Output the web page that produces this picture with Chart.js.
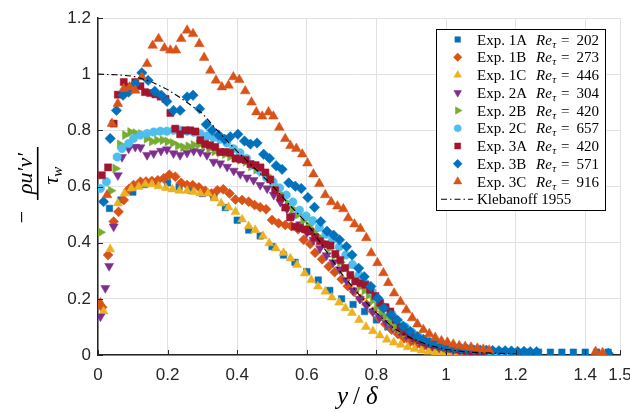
<!DOCTYPE html>
<html><head><meta charset="utf-8">
<script src="https://cdn.jsdelivr.net/npm/chart.js@4/dist/chart.umd.min.js"></script>
<style>html,body{margin:0;padding:0;background:#fff}canvas{display:block}</style>
</head><body>
<canvas id="c" width="630" height="413"></canvas>
<script>
// ---- tick labels ----
const xTicks = [0, 0.2, 0.4, 0.6, 0.8, 1, 1.2, 1.4, 1.5];
const yTicks = [0, 0.2, 0.4, 0.6, 0.8, 1, 1.2];

// ---- series names ----
const expNames = ['Exp. 1A','Exp. 1B','Exp. 1C','Exp. 2A','Exp. 2B','Exp. 2C','Exp. 3A','Exp. 3B','Exp. 3C'];
const reTau = [202, 273, 446, 304, 420, 657, 420, 571, 916];
const refName = 'Klebanoff 1955';

// ---- series values [y/delta, -rho u'v'/tau_w] ----
const exp1A = [[0.033,0.522],[0.066,0.552],[0.1,0.58],[0.133,0.607],[0.166,0.614],[0.2,0.613],[0.233,0.599],[0.266,0.587],[0.3,0.575],[0.333,0.563],[0.366,0.525],[0.4,0.48],[0.433,0.445],[0.466,0.424],[0.5,0.386],[0.533,0.356],[0.566,0.33],[0.6,0.297],[0.633,0.267],[0.666,0.23],[0.7,0.2],[0.733,0.18],[0.766,0.155],[0.8,0.125],[0.833,0.1],[0.866,0.075],[0.9,0.055],[0.933,0.04],[0.966,0.03],[1.0,0.02],[1.033,0.015],[1.066,0.013],[1.1,0.012],[1.133,0.012],[1.166,0.011],[1.2,0.011],[1.233,0.01],[1.266,0.01],[1.3,0.01],[1.333,0.01],[1.366,0.01],[1.4,0.01],[1.433,0.01],[1.466,0.01]];
const exp1B = [[0.012,0.17],[0.029,0.356],[0.045,0.475],[0.059,0.51],[0.074,0.552],[0.088,0.59],[0.102,0.605],[0.122,0.617],[0.138,0.618],[0.155,0.62],[0.172,0.622],[0.189,0.629],[0.205,0.642],[0.222,0.635],[0.239,0.613],[0.256,0.605],[0.272,0.605],[0.29,0.597],[0.308,0.585],[0.326,0.575],[0.343,0.587],[0.36,0.59],[0.378,0.575],[0.395,0.554],[0.414,0.552],[0.433,0.546],[0.45,0.534],[0.466,0.526],[0.483,0.519],[0.5,0.481],[0.519,0.469],[0.538,0.463],[0.555,0.459],[0.575,0.448],[0.591,0.41],[0.61,0.395],[0.624,0.364],[0.644,0.341],[0.663,0.315],[0.68,0.295],[0.7,0.27],[0.718,0.245],[0.736,0.225],[0.754,0.2],[0.772,0.18],[0.79,0.155],[0.808,0.132],[0.826,0.11],[0.844,0.09],[0.862,0.075],[0.88,0.06],[0.898,0.048],[0.916,0.038],[0.934,0.03],[0.952,0.024],[0.97,0.02],[0.988,0.016],[1.006,0.013],[1.024,0.011],[1.042,0.01],[1.06,0.009],[1.078,0.008],[1.096,0.008]];
const exp1C = [[0.016,0.155],[0.035,0.377],[0.057,0.54],[0.076,0.575],[0.096,0.593],[0.117,0.599],[0.136,0.608],[0.155,0.608],[0.174,0.601],[0.195,0.595],[0.214,0.59],[0.234,0.585],[0.256,0.585],[0.275,0.581],[0.294,0.575],[0.316,0.575],[0.335,0.558],[0.354,0.54],[0.375,0.526],[0.395,0.51],[0.414,0.483],[0.433,0.459],[0.452,0.445],[0.474,0.424],[0.492,0.398],[0.511,0.38],[0.533,0.364],[0.553,0.344],[0.572,0.321],[0.594,0.291],[0.613,0.267],[0.632,0.244],[0.653,0.226],[0.672,0.205],[0.693,0.187],[0.711,0.167],[0.73,0.15],[0.75,0.125],[0.77,0.1],[0.79,0.085],[0.81,0.07],[0.83,0.055],[0.85,0.045],[0.87,0.037],[0.89,0.028],[0.91,0.022],[0.93,0.016],[0.95,0.012],[0.97,0.009],[0.99,0.007],[1.01,0.006],[1.03,0.005],[1.05,0.005],[1.07,0.004],[1.09,0.004]];
const exp2A = [[0.007,0.137],[0.021,0.238],[0.032,0.317],[0.045,0.457],[0.057,0.64],[0.069,0.705],[0.088,0.735],[0.107,0.741],[0.122,0.739],[0.141,0.712],[0.16,0.718],[0.181,0.727],[0.198,0.732],[0.217,0.718],[0.236,0.712],[0.256,0.72],[0.275,0.727],[0.294,0.723],[0.313,0.712],[0.332,0.688],[0.351,0.682],[0.371,0.67],[0.39,0.656],[0.409,0.644],[0.428,0.632],[0.447,0.623],[0.466,0.605],[0.486,0.593],[0.505,0.57],[0.524,0.545],[0.543,0.52],[0.562,0.497],[0.581,0.465],[0.6,0.435],[0.619,0.41],[0.638,0.38],[0.657,0.355],[0.676,0.33],[0.695,0.305],[0.714,0.265],[0.733,0.23],[0.752,0.2],[0.771,0.178],[0.79,0.155],[0.809,0.135],[0.828,0.115],[0.847,0.098],[0.866,0.085],[0.885,0.07],[0.904,0.058],[0.923,0.048],[0.942,0.04],[0.961,0.033],[0.98,0.027],[1.0,0.022],[1.02,0.018],[1.04,0.015],[1.06,0.013],[1.08,0.012],[1.1,0.011],[1.12,0.01],[1.14,0.01],[1.16,0.009],[1.18,0.009],[1.2,0.008],[1.22,0.008],[1.24,0.008]];
const exp2B = [[0.007,0.437],[0.037,0.585],[0.05,0.664],[0.063,0.75],[0.078,0.783],[0.093,0.794],[0.108,0.79],[0.124,0.787],[0.14,0.77],[0.155,0.76],[0.17,0.765],[0.186,0.765],[0.2,0.76],[0.215,0.755],[0.23,0.745],[0.245,0.74],[0.26,0.743],[0.275,0.748],[0.29,0.75],[0.305,0.745],[0.32,0.735],[0.335,0.725],[0.35,0.72],[0.365,0.715],[0.38,0.707],[0.395,0.7],[0.41,0.695],[0.425,0.688],[0.44,0.672],[0.455,0.66],[0.47,0.652],[0.485,0.64],[0.5,0.62],[0.515,0.6],[0.53,0.57],[0.545,0.54],[0.56,0.52],[0.575,0.5],[0.59,0.48],[0.605,0.46],[0.62,0.44],[0.635,0.42],[0.65,0.4],[0.665,0.38],[0.68,0.355],[0.696,0.33],[0.71,0.31],[0.725,0.28],[0.74,0.265],[0.754,0.244],[0.766,0.23],[0.778,0.214],[0.79,0.195],[0.802,0.173],[0.814,0.155],[0.826,0.137],[0.84,0.12],[0.854,0.102],[0.868,0.09],[0.883,0.078],[0.897,0.068],[0.91,0.06],[0.925,0.052],[0.94,0.045],[0.955,0.04],[0.97,0.035],[0.985,0.03],[1.0,0.025],[1.02,0.02],[1.04,0.016],[1.06,0.014],[1.08,0.012],[1.1,0.01],[1.12,0.01],[1.14,0.009],[1.16,0.009],[1.18,0.008],[1.2,0.008]];
const exp2C = [[0.007,0.593],[0.024,0.617],[0.055,0.705],[0.069,0.735],[0.088,0.753],[0.102,0.771],[0.122,0.783],[0.141,0.789],[0.16,0.794],[0.179,0.797],[0.198,0.797],[0.217,0.8],[0.236,0.8],[0.256,0.797],[0.275,0.793],[0.294,0.788],[0.313,0.78],[0.332,0.774],[0.351,0.768],[0.37,0.755],[0.389,0.735],[0.408,0.72],[0.427,0.7],[0.446,0.676],[0.465,0.655],[0.484,0.632],[0.503,0.617],[0.522,0.595],[0.541,0.57],[0.56,0.545],[0.579,0.516],[0.598,0.495],[0.617,0.478],[0.636,0.455],[0.655,0.43],[0.674,0.41],[0.693,0.385],[0.712,0.356],[0.731,0.322],[0.75,0.285],[0.769,0.255],[0.788,0.225],[0.807,0.195],[0.826,0.17],[0.845,0.145],[0.864,0.119],[0.883,0.1],[0.902,0.082],[0.921,0.066],[0.94,0.055],[0.96,0.046],[0.98,0.036],[1.0,0.028],[1.02,0.022],[1.04,0.018],[1.06,0.015],[1.08,0.013],[1.1,0.012],[1.12,0.011],[1.14,0.01],[1.16,0.01],[1.18,0.009],[1.2,0.009]];
const exp3A = [[0.011,0.64],[0.029,0.668],[0.045,0.824],[0.057,0.927],[0.074,0.972],[0.088,0.955],[0.107,0.972],[0.122,0.957],[0.135,0.936],[0.15,0.933],[0.165,0.928],[0.18,0.92],[0.194,0.912],[0.208,0.862],[0.222,0.806],[0.236,0.786],[0.251,0.8],[0.265,0.8],[0.28,0.796],[0.294,0.765],[0.308,0.752],[0.322,0.747],[0.337,0.741],[0.351,0.723],[0.366,0.723],[0.38,0.72],[0.395,0.7],[0.409,0.697],[0.424,0.694],[0.438,0.68],[0.453,0.676],[0.467,0.668],[0.481,0.65],[0.495,0.625],[0.509,0.587],[0.524,0.56],[0.538,0.525],[0.552,0.49],[0.566,0.457],[0.581,0.452],[0.595,0.447],[0.61,0.44],[0.624,0.42],[0.638,0.405],[0.653,0.394],[0.668,0.39],[0.682,0.36],[0.696,0.338],[0.71,0.31],[0.725,0.285],[0.739,0.262],[0.754,0.256],[0.768,0.25],[0.782,0.232],[0.797,0.21],[0.811,0.185],[0.826,0.17],[0.84,0.155],[0.855,0.125],[0.869,0.1],[0.883,0.082],[0.898,0.07],[0.912,0.06],[0.926,0.052],[0.94,0.045],[0.955,0.04],[0.97,0.035],[0.985,0.03],[1.0,0.026],[1.015,0.022],[1.03,0.019],[1.045,0.016],[1.06,0.014],[1.075,0.012],[1.09,0.011],[1.105,0.01]];
const exp3B = [[0.016,0.546],[0.035,0.771],[0.053,0.871],[0.072,0.925],[0.088,0.936],[0.107,0.966],[0.126,1.005],[0.144,0.978],[0.163,0.939],[0.182,0.925],[0.198,0.903],[0.217,0.871],[0.236,0.871],[0.256,0.919],[0.273,0.925],[0.292,0.877],[0.311,0.821],[0.328,0.8],[0.347,0.783],[0.364,0.768],[0.38,0.777],[0.402,0.786],[0.421,0.762],[0.438,0.751],[0.457,0.755],[0.476,0.715],[0.493,0.7],[0.512,0.674],[0.529,0.661],[0.548,0.613],[0.567,0.601],[0.584,0.593],[0.603,0.561],[0.622,0.526],[0.64,0.475],[0.658,0.441],[0.677,0.427],[0.694,0.41],[0.714,0.386],[0.73,0.356],[0.749,0.309],[0.765,0.279],[0.784,0.244],[0.804,0.202],[0.821,0.167],[0.842,0.143],[0.859,0.125],[0.878,0.102],[0.897,0.084],[0.917,0.066],[0.935,0.055],[0.953,0.045],[0.972,0.038],[0.99,0.032],[1.008,0.028],[1.026,0.025],[1.044,0.022],[1.062,0.02],[1.08,0.018],[1.098,0.018],[1.116,0.017],[1.134,0.016],[1.152,0.015],[1.17,0.015],[1.188,0.014],[1.206,0.013],[1.224,0.013],[1.242,0.012],[1.26,0.012],[1.466,0.006]];
const exp3C = [[0.007,0.185],[0.026,0.57],[0.04,0.824],[0.057,0.895],[0.074,0.948],[0.091,0.954],[0.107,0.942],[0.126,0.99],[0.141,1.037],[0.157,1.102],[0.174,1.126],[0.191,1.093],[0.208,1.085],[0.224,1.085],[0.239,1.126],[0.256,1.156],[0.273,1.144],[0.291,1.108],[0.305,1.059],[0.323,1.013],[0.339,0.978],[0.356,0.954],[0.375,0.96],[0.389,0.99],[0.406,0.98],[0.423,0.94],[0.441,0.9],[0.455,0.865],[0.472,0.85],[0.49,0.865],[0.504,0.85],[0.521,0.81],[0.538,0.77],[0.553,0.745],[0.57,0.735],[0.587,0.715],[0.602,0.683],[0.619,0.644],[0.636,0.61],[0.653,0.57],[0.67,0.545],[0.688,0.53],[0.705,0.52],[0.719,0.488],[0.737,0.466],[0.754,0.45],[0.771,0.417],[0.785,0.363],[0.803,0.328],[0.82,0.292],[0.834,0.257],[0.851,0.22],[0.869,0.19],[0.886,0.16],[0.903,0.132],[0.918,0.11],[0.935,0.09],[0.952,0.075],[0.969,0.062],[0.987,0.05],[1.004,0.045],[1.021,0.038],[1.038,0.033],[1.055,0.03],[1.072,0.027],[1.09,0.024],[1.107,0.02],[1.124,0.017],[1.43,0.012],[1.45,0.008]];
const klebanoff1955 = [[0,1.0],[0.05,0.998],[0.1,0.993],[0.15,0.975],[0.2,0.945],[0.25,0.905],[0.3,0.86],[0.35,0.79],[0.4,0.725],[0.45,0.665],[0.5,0.605],[0.55,0.535],[0.6,0.47],[0.65,0.38],[0.7,0.29],[0.75,0.215],[0.8,0.15],[0.85,0.095],[0.9,0.06],[0.95,0.035],[1.0,0.02],[1.05,0.012],[1.1,0.008],[1.2,0.004]];

const expData = [exp1A, exp1B, exp1C, exp2A, exp2B, exp2C, exp3A, exp3B, exp3C];
const colors = ['#0072BD','#D95319','#EDB120','#7E2F8E','#77AC30','#4DBEEE','#A2142F','#0072BD','#D95319'];
const styles = [
  {pointStyle:'rect', radius:4.6, rotation:0},
  {pointStyle:'rectRot', radius:5, rotation:0},
  {pointStyle:'triangle', radius:5.2, rotation:0},
  {pointStyle:'triangle', radius:5.2, rotation:180},
  {pointStyle:'triangle', radius:5.2, rotation:90},
  {pointStyle:'circle', radius:4.2, rotation:0},
  {pointStyle:'rect', radius:5, rotation:0},
  {pointStyle:'rectRot', radius:5.2, rotation:0},
  {pointStyle:'triangle', radius:5.6, rotation:0}
];

const datasets = expData.map((d, i) => ({
  type: 'scatter',
  label: expNames[i],
  data: d.map(p => ({x: p[0], y: p[1]})),
  showLine: false,
  pointStyle: styles[i].pointStyle,
  pointRadius: styles[i].radius,
  pointRotation: styles[i].rotation,
  backgroundColor: colors[i],
  borderColor: colors[i],
  pointBorderWidth: 0.5,
  order: 10 - i
}));
datasets.push({
  type: 'line',
  label: refName,
  data: klebanoff1955.map(p => ({x: p[0], y: p[1]})),
  borderColor: '#000',
  borderWidth: 1.1,
  borderDash: [6, 3, 1.5, 3],
  pointRadius: 0,
  tension: 0,
  fill: false,
  order: 0
});

const fmt = v => String(Math.round(v * 10) / 10);

const decor = {
  id: 'decor',
  afterDraw(chart) {
    const ctx = chart.ctx, ca = chart.chartArea;
    const xs = chart.scales.x, ys = chart.scales.y;
    ctx.save();
    // inward tick marks
    ctx.strokeStyle = '#262626'; ctx.lineWidth = 1;
    ctx.beginPath();
    xTicks.forEach(v => { const p = Math.round(xs.getPixelForValue(v)) + 0.5; ctx.moveTo(p, ca.bottom); ctx.lineTo(p, ca.bottom - 5); });
    yTicks.forEach(v => { const p = Math.round(ys.getPixelForValue(v)) + 0.5; ctx.moveTo(ca.left, p); ctx.lineTo(ca.left + 5, p); });
    ctx.stroke();

    // legend
    const bx = 436.5, by = 29.5, bw = 169, bh = 181;
    ctx.fillStyle = '#fff'; ctx.fillRect(bx, by, bw, bh);
    ctx.strokeStyle = '#000'; ctx.lineWidth = 1; ctx.strokeRect(bx, by, bw, bh);
    const rowY = i => 39.5 + i * 17.75;
    const serif = '"Liberation Serif", "Times New Roman", serif';
    ctx.textBaseline = 'alphabetic';
    for (let i = 0; i < expNames.length; i++) {
      const cy = rowY(i);
      ctx.fillStyle = colors[i]; ctx.strokeStyle = colors[i]; ctx.lineWidth = 0.5;
      const st = styles[i];
      Chart.helpers.drawPoint(ctx, {pointStyle: st.pointStyle, radius: st.radius * 0.85, rotation: st.rotation, borderWidth: 0.5}, 457.7, cy);
      ctx.fillStyle = '#000';
      const base = cy + 5;
      ctx.textAlign = 'left';
      ctx.font = '15px ' + serif;
      ctx.fillText(expNames[i], 477, base);
      ctx.font = 'italic 15px ' + serif;
      ctx.fillText('Re', 536, base);
      const w = ctx.measureText('Re').width;
      ctx.font = 'italic 11px ' + serif;
      ctx.fillText('τ', 536 + w + 0.5, base + 3);
      ctx.font = '15px ' + serif;
      ctx.fillText('=', 561, base);
      ctx.textAlign = 'right';
      ctx.fillText(String(reTau[i]), 599, base);
    }
    // Klebanoff legend entry
    const ky = rowY(9);
    ctx.strokeStyle = '#000'; ctx.lineWidth = 1.1; ctx.setLineDash([6, 3, 1.5, 3]);
    ctx.beginPath(); ctx.moveTo(441, ky); ctx.lineTo(473, ky); ctx.stroke();
    ctx.setLineDash([]);
    ctx.fillStyle = '#000'; ctx.textAlign = 'left'; ctx.font = '15px ' + serif;
    ctx.fillText(refName, 477, ky + 5);

    // x axis title  y/δ
    ctx.font = 'italic 25px ' + serif;
    ctx.fillText('y', 337, 404);
    ctx.font = '25px ' + serif;
    ctx.fillText('/', 353, 404);
    ctx.font = 'italic 25px ' + serif;
    ctx.fillText('δ', 366, 404);

    // y axis title  - ρu'v' / τ_w (rotated)
    ctx.translate(37.7, 173.5);
    ctx.rotate(-Math.PI / 2);
    ctx.fillStyle = '#000';
    ctx.fillRect(-26.5, -0.8, 53, 1.6);
    ctx.textAlign = 'center';
    ctx.font = 'italic 22px ' + serif;
    ctx.fillText('ρu′v′', 0, -6);
    ctx.textAlign = 'left';
    ctx.font = 'italic 22px ' + serif;
    const tw = ctx.measureText('τ').width;
    ctx.fillText('τ', -11, 20);
    ctx.font = 'italic 15px ' + serif;
    ctx.fillText('w', -11 + tw, 24);
    ctx.textAlign = 'center';
    ctx.font = '22px ' + serif;
    ctx.fillText('−', -43.5, -8.5);
    ctx.restore();
  }
};

new Chart(document.getElementById('c'), {
  type: 'scatter',
  data: { datasets },
  options: {
    responsive: false,
    animation: false,
    devicePixelRatio: 1,
    layout: { padding: { left: 0, right: 10, top: 18, bottom: 0 } },
    plugins: { legend: { display: false }, tooltip: { enabled: false } },
    scales: {
      x: {
        type: 'linear', min: 0, max: 1.5,
        afterBuildTicks: s => { s.ticks = xTicks.map(v => ({ value: v })); },
        afterFit: s => { s.height = 58; s.paddingLeft = 0; s.paddingRight = 0; },
        grid: { color: '#e2e2e2', lineWidth: 1, drawTicks: false },
        border: { display: true, color: '#262626', width: 1.5 },
        ticks: { autoSkip: false, maxRotation: 0, padding: 10, color: '#262626',
                 font: { family: '"Liberation Sans", Arial, sans-serif', size: 17 },
                 callback: v => fmt(v) }
      },
      y: {
        type: 'linear', min: 0, max: 1.2,
        afterBuildTicks: s => { s.ticks = yTicks.map(v => ({ value: v })); },
        afterFit: s => { s.width = 98; s.paddingTop = 0; s.paddingBottom = 0; },
        grid: { color: '#e2e2e2', lineWidth: 1, drawTicks: false },
        border: { display: true, color: '#262626', width: 1.5 },
        ticks: { autoSkip: false, padding: 7, color: '#262626',
                 font: { family: '"Liberation Sans", Arial, sans-serif', size: 17 },
                 callback: v => fmt(v) }
      }
    }
  },
  plugins: [decor]
});
</script>
</body></html>
